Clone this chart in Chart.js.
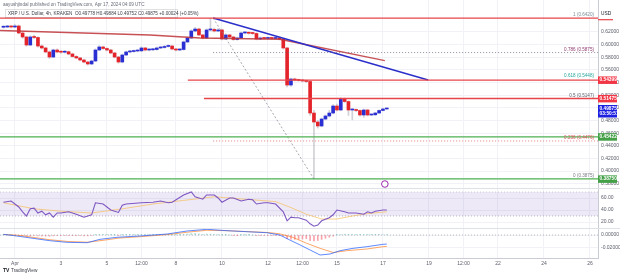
<!DOCTYPE html>
<html>
<head>
<meta charset="utf-8">
<script src="https://cdn.jsdelivr.net/npm/chart.js@4.4.1/dist/chart.umd.min.js"></script>
<style>
  html, body { margin: 0; padding: 0; background: #fff; }
  #c { display: block; }
</style>
</head>
<body>
<canvas id="c" width="620" height="277"></canvas>
<script>
// XRP/USD 4h candles, x = candle index, 0 = Apr 1 00:00 UTC
const firstIdx = -3;
const opens = [
  0.6275, 0.6279, 0.6287, 0.6279,
  0.6295, 0.6184, 0.6121, 0.5994, 0.6121, 0.6113, 0.5978, 0.5947, 0.5884, 0.5804,
  0.5915, 0.5884, 0.5880, 0.5888, 0.5852, 0.5812, 0.5789, 0.5757, 0.5725, 0.5694,
  0.5741, 0.5915, 0.5963, 0.5939, 0.5915, 0.5868, 0.5804, 0.5725, 0.5836, 0.5884,
  0.5891, 0.5899, 0.5902, 0.5947, 0.5915, 0.5918, 0.5923, 0.5947, 0.5955, 0.5971,
  0.5978, 0.5931, 0.5915, 0.5923, 0.6042, 0.6105, 0.6216, 0.6247, 0.6153, 0.6105,
  0.6232, 0.6240, 0.6216, 0.6232, 0.6089, 0.6153, 0.6121, 0.6081, 0.6105, 0.6184,
  0.6187, 0.6180, 0.6176, 0.6089, 0.6105, 0.6097, 0.6105, 0.6097, 0.6105, 0.6089,
  0.5947, 0.5361, 0.5456, 0.5441, 0.5433, 0.5425, 0.5417, 0.4918, 0.4776, 0.4713,
  0.4823, 0.4871, 0.4918, 0.5029, 0.4966, 0.5140, 0.5100, 0.4966, 0.4970, 0.4958,
  0.4887, 0.4966, 0.4887, 0.4890, 0.4918, 0.4958, 0.4982
];
const closes = [
  0.6279, 0.6287, 0.6279, 0.6295,
  0.6184, 0.6121, 0.5994, 0.6121, 0.6113, 0.5978, 0.5947, 0.5884, 0.5804, 0.5915,
  0.5884, 0.5880, 0.5888, 0.5852, 0.5812, 0.5789, 0.5757, 0.5725, 0.5694, 0.5741,
  0.5915, 0.5963, 0.5939, 0.5915, 0.5868, 0.5804, 0.5725, 0.5836, 0.5884, 0.5891,
  0.5899, 0.5902, 0.5947, 0.5915, 0.5918, 0.5923, 0.5947, 0.5955, 0.5971, 0.5978,
  0.5931, 0.5915, 0.5923, 0.6042, 0.6105, 0.6216, 0.6247, 0.6153, 0.6105, 0.6232,
  0.6240, 0.6216, 0.6232, 0.6089, 0.6153, 0.6121, 0.6081, 0.6105, 0.6184, 0.6187,
  0.6180, 0.6176, 0.6089, 0.6105, 0.6097, 0.6105, 0.6097, 0.6105, 0.6089, 0.5947,
  0.5361, 0.5456, 0.5441, 0.5433, 0.5425, 0.5417, 0.4918, 0.4776, 0.4713, 0.4823,
  0.4871, 0.4918, 0.5029, 0.4966, 0.5140, 0.5100, 0.4966, 0.4970, 0.4958, 0.4887,
  0.4966, 0.4887, 0.4890, 0.4918, 0.4958, 0.4982, 0.4988
];
const highs = [
  0.6300, 0.6305, 0.6302, 0.6318,
  0.6310, 0.6200, 0.6135, 0.6140, 0.6150, 0.6125, 0.5995, 0.5960, 0.5900, 0.5930,
  0.5935, 0.5905, 0.5908, 0.5900, 0.5866, 0.5825, 0.5800, 0.5770, 0.5738, 0.5755,
  0.5932, 0.5985, 0.5978, 0.5950, 0.5928, 0.5880, 0.5815, 0.5850, 0.5898, 0.5910,
  0.5915, 0.5920, 0.5965, 0.5958, 0.5935, 0.5940, 0.5962, 0.5972, 0.5988, 0.5995,
  0.5990, 0.5942, 0.5938, 0.6058, 0.6122, 0.6235, 0.6275, 0.6262, 0.6165, 0.6250,
  0.6420, 0.6262, 0.6255, 0.6245, 0.6170, 0.6165, 0.6132, 0.6118, 0.6200, 0.6205,
  0.6200, 0.6195, 0.6188, 0.6120, 0.6115, 0.6118, 0.6116, 0.6120, 0.6118, 0.6100,
  0.5960, 0.5470, 0.5470, 0.5455, 0.5448, 0.5440, 0.5430, 0.4960, 0.4800, 0.4840,
  0.4890, 0.4960, 0.5050, 0.5060, 0.5160, 0.5155, 0.5112, 0.4990, 0.4985, 0.4970,
  0.4980, 0.4975, 0.4905, 0.4930, 0.4970, 0.4995, 0.4988
];
const lows = [
  0.6262, 0.6270, 0.6265, 0.6268,
  0.6170, 0.6100, 0.5975, 0.5985, 0.6095, 0.5960, 0.5930, 0.5870, 0.5780, 0.5795,
  0.5870, 0.5862, 0.5866, 0.5838, 0.5800, 0.5775, 0.5742, 0.5710, 0.5675, 0.5684,
  0.5730, 0.5905, 0.5925, 0.5900, 0.5855, 0.5790, 0.5705, 0.5712, 0.5825, 0.5870,
  0.5878, 0.5885, 0.5890, 0.5900, 0.5902, 0.5905, 0.5912, 0.5935, 0.5942, 0.5960,
  0.5918, 0.5900, 0.5905, 0.5912, 0.6030, 0.6095, 0.6200, 0.6140, 0.6090, 0.6095,
  0.6215, 0.6200, 0.6205, 0.6075, 0.6078, 0.6105, 0.6068, 0.6070, 0.6095, 0.6170,
  0.6165, 0.6160, 0.6075, 0.6078, 0.6083, 0.6085, 0.6082, 0.6086, 0.6075, 0.5930,
  0.5330, 0.5340, 0.5425, 0.5420, 0.5410, 0.5400, 0.4880, 0.3875, 0.4680, 0.4700,
  0.4810, 0.4855, 0.4905, 0.4950, 0.4955, 0.5085, 0.4880, 0.4810, 0.4940, 0.4870,
  0.4850, 0.4872, 0.4875, 0.4880, 0.4910, 0.4950, 0.4975
];

// moving average line (as drawn)
const maIdx = [-3.9, 35.2, 48.3, 69.1, 96.5];
const maVals = [0.6224, 0.6153, 0.6105, 0.6085, 0.5746];

// drawings
const trendIdx = [51.7, 107.8];
const trendVals = [0.6420, 0.5441];
const fibDiagIdx = [51.7, 78];
const fibDiagVals = [0.6420, 0.3875];
const redLevels = [0.6420, 0.5440, 0.5148];
const redStarts = [-3.9, 45.1, 49.3];
const greenLevels = [0.4542, 0.3875];
const fibDotLevels = [0.5875, 0.4476];
const fibRatios = ['1', '0.786', '0.618', '0.5', '0.236', '0'];
const fibPrices = [0.6420, 0.5875, 0.5448, 0.5147, 0.4476, 0.3875];
const fibColors = ['#7a8c99', '#8e3a6e', '#26a69a', '#5d606b', '#e0525a', '#787b86'];

// RSI
const rsiIdx = [-3,-1,1,2,3,4,5,6,7,8,9,10,11,12,14,16,18,20,21,23,25,27,28,29,33,36,38,40,41,44,46,47,49,50,52,53,54,56,57,59,61,62,63,65,66,68,70,71,72,73,74,76,77,78,79,80,82,83,84,86,87,89,91,92,93,94,96,97];
const rsiVals = [53,55,45,37,30,42,43,35,38,32,35,28,35,35,37,33,28,32,52,50,40,36,48,50,52,53,55,52,53,65,70,62,58,65,65,60,53,60,60,55,58,57,50,52,52,50,37,22,28,27,27,23,17,13,15,22,27,32,40,37,35,35,33,37,35,38,40,40];
const rsiMaIdx = [-3, 5, 12, 20, 28, 36, 44, 52, 60, 68, 72, 76, 80, 84, 88, 92, 97];
const rsiMaVals = [52, 42, 38, 35, 42, 50, 56, 62, 58, 54, 44, 33, 25, 25, 30, 34, 37];

// MACD
const macdIdx = [-3, 0.5, 4.7, 9.1, 13.6, 18.8, 22.2, 26.6, 32.6, 39.7, 44.9, 50.1, 55.3, 60.5, 65.7, 69.1, 71.7, 74.4, 77, 79.6, 82.2, 84.8, 88.2, 91.8, 96, 97];
const macdVals = [0.0011, -0.0016, -0.0053, -0.0091, -0.0117, -0.0123, -0.0069, -0.0037, -0.0016, 0.0016, 0.0064, 0.0091, 0.0069, 0.0053, 0.0037, 0.0000, -0.0080, -0.0160, -0.0240, -0.0320, -0.0304, -0.0251, -0.0213, -0.0187, -0.0149, -0.0145];
const sigIdx = [-3, 1, 5, 9, 14, 19, 23, 27, 33, 40, 45, 50, 55, 60, 66, 69, 72.5, 76, 79.6, 83, 86.6, 91.8, 96, 97];
const sigVals = [0.0008, -0.0005, -0.0040, -0.0075, -0.0105, -0.0115, -0.0085, -0.0050, -0.0025, 0.0008, 0.0045, 0.0075, 0.0070, 0.0056, 0.0040, 0.0020, -0.0037, -0.0130, -0.0213, -0.0280, -0.0251, -0.0224, -0.0187, -0.0182];
const histVals = [
  0.0003, 0.0004, 0.0002, -0.0002,
  -0.0008, -0.0012, -0.0016, -0.0014, -0.0012, -0.0014, -0.0016, -0.0018, -0.0020, -0.0014,
  -0.0012, -0.0010, -0.0010, -0.0010, -0.0011, -0.0012, -0.0012, -0.0013, -0.0014, -0.0008,
  0.0004, 0.0010, 0.0011, 0.0009, 0.0006, 0.0002, -0.0003, 0.0002, 0.0005, 0.0006,
  0.0006, 0.0006, 0.0008, 0.0006, 0.0005, 0.0005, 0.0006, 0.0006, 0.0007, 0.0007,
  0.0003, 0.0001, 0.0001,
  0.0009, 0.0014, 0.0020, 0.0022, 0.0015, 0.0009, 0.0014, 0.0013, 0.0010, 0.0009,
  0.0001, 0.0002, 0.0000, -0.0003, -0.0002, 0.0002, 0.0002, 0.0001, 0.0000, -0.0004,
  -0.0004, -0.0004, -0.0004, -0.0004, -0.0003, -0.0004,
  -0.0016, -0.0060, -0.0068, -0.0070, -0.0068, -0.0064, -0.0058, -0.0090, -0.0095, -0.0088,
  -0.0070, -0.0052, -0.0036, -0.0018,
  0.0003, 0.0008, 0.0012, 0.0010, 0.0010, 0.0009, 0.0007, 0.0008, 0.0006, 0.0006,
  0.0006, 0.0007, 0.0008, 0.0008
];

// axes
const xMin = -3.9, xMax = 152.1;
const timeTickIdx = [0, 12, 24, 33, 42, 54, 66, 75, 84, 96, 108, 117, 126, 138, 150];
const timeTickText = ['Apr', '3', '5', '12:00', '8', '10', '12', '12:00', '15', '17', '19', '12:00', '22', '24', '26'];
const priceTicks = [0.38, 0.40, 0.42, 0.44, 0.46, 0.48, 0.50, 0.52, 0.54, 0.56, 0.58, 0.60, 0.62];
const rsiTicks = [20, 40, 60];
const macdTicks = [-0.02, 0];

const axisBoxes = [
  { price: 0.5440, color: '#f23645', lines: ['0.54399'] },
  { price: 0.5148, color: '#f23645', lines: ['0.51475'] },
  { price: 0.4988, color: '#1e22e0', lines: ['0.49875', '03:50:51'] },
  { price: 0.4542, color: '#43a047', lines: ['0.45422'] },
  { price: 0.3875, color: '#43a047', lines: ['0.38750'] }
];

const FONT = '"Liberation Sans", Arial, sans-serif';
const UP = '#2a2fd4', DOWN = '#e3242b';
const idx = closes.map((_, k) => firstIdx + k);
const candleColors = closes.map((c, k) => c >= opens[k] ? UP : DOWN);
const pts = (xs, ys) => xs.map((x, k) => ({ x, y: ys[k] }));
const hLine = (y, x0) => [{ x: x0, y }, { x: xMax, y }];

const lineDs = (data, color, width, extra) => Object.assign({
  type: 'line', data, borderColor: color, borderWidth: width, pointRadius: 0,
  tension: 0, fill: false, yAxisID: 'yPrice', order: 1
}, extra || {});

const datasets = [];
// drawings on price pane (on top)
redLevels.forEach((p, k) => datasets.push(lineDs(hLine(p, redStarts[k]), '#e8454a', 1.3)));
greenLevels.forEach(p => datasets.push(lineDs(hLine(p, xMin), '#4caf50', 1.2)));
fibDotLevels.forEach((p, k) => datasets.push(lineDs(hLine(p, fibDiagIdx[0]),
  k === 0 ? 'rgba(120,110,130,0.8)' : 'rgba(225,90,95,0.75)', 1, { borderDash: [1, 2] })));
datasets.push(lineDs(pts(trendIdx, trendVals), '#2b2fc9', 1.5));
datasets.push(lineDs(pts(fibDiagIdx, fibDiagVals), 'rgba(130,130,140,0.7)', 1, { borderDash: [2, 2] }));
datasets.push(lineDs(pts(maIdx, maVals), 'rgba(190,50,55,0.85)', 1.4, { order: 2 }));
datasets.push({
  type: 'scatter', data: [{ x: 96.5, y: 0.3795 }], yAxisID: 'yPrice', pointRadius: 3.3,
  pointBackgroundColor: '#fff', pointBorderColor: '#9c27b0', pointBorderWidth: 1, order: 1
});
// candles
datasets.push({
  type: 'bar', data: idx.map((x, k) => ({ x, y: [opens[k], closes[k]] })),
  backgroundColor: candleColors, barThickness: 3, minBarLength: 1, grouped: false,
  borderWidth: 0, yAxisID: 'yPrice', order: 3
});
datasets.push({
  type: 'bar', data: idx.map((x, k) => ({ x, y: [lows[k], highs[k]] })),
  backgroundColor: 'rgba(150,152,165,0.45)', barThickness: 1, grouped: false,
  borderWidth: 0, yAxisID: 'yPrice', order: 4
});
// RSI pane
datasets.push(lineDs(pts(rsiIdx, rsiVals), '#7e57c2', 1.1, { yAxisID: 'yRsi', order: 5 }));
datasets.push(lineDs(pts(rsiMaIdx, rsiMaVals), 'rgba(245,190,90,0.7)', 1, { yAxisID: 'yRsi', order: 6 }));
datasets.push(lineDs(hLine(70, xMin), 'rgba(120,123,134,0.35)', 1, { yAxisID: 'yRsi', borderDash: [1, 2], order: 7 }));
datasets.push(lineDs(hLine(30, xMin), 'rgba(120,123,134,0.5)', 1, {
  yAxisID: 'yRsi', borderDash: [1, 2], order: 8,
  fill: { value: 70 }, backgroundColor: 'rgba(126,87,194,0.13)'
}));
// MACD pane
datasets.push(lineDs(pts(macdIdx, macdVals), 'rgba(41,98,255,0.75)', 1, { yAxisID: 'yMacd', order: 5 }));
datasets.push(lineDs(pts(sigIdx, sigVals), 'rgba(255,109,0,0.6)', 1, { yAxisID: 'yMacd', order: 6 }));
datasets.push(lineDs(hLine(0, xMin), 'rgba(120,123,134,0.5)', 1, { yAxisID: 'yMacd', borderDash: [1, 2], order: 8 }));
datasets.push({
  type: 'bar', data: idx.map((x, k) => ({ x, y: histVals[k] })),
  backgroundColor: histVals.map(v => v < 0 ? 'rgba(242,54,69,0.45)' : 'rgba(38,166,154,0.45)'),
  barThickness: 1, grouped: false, borderWidth: 0, yAxisID: 'yMacd', order: 7
});

const tickFont = { family: FONT, size: 5 };
const yAxis = (weight, min, max, ticks, fmt) => ({
  type: 'linear', position: 'right', stack: 'panes', stackWeight: weight, min, max,
  afterBuildTicks: s => { s.ticks = ticks.map(v => ({ value: v })); },
  afterFit: s => { s.width = 22; s.paddingTop = 0; s.paddingBottom = 0; },
  grid: { color: '#f0f2f7', drawTicks: false },
  border: { color: '#c9ccd4' },
  ticks: { padding: 3, autoSkip: false, font: tickFont, color: '#5d606b', callback: fmt }
});

const overlay = {
  id: 'overlay',
  afterDatasetsDraw(chart) {
    const ctx = chart.ctx, a = chart.chartArea, yP = chart.scales.yPrice;
    ctx.save();
    ctx.font = '4.6px ' + FONT;
    ctx.textAlign = 'right';
    ctx.textBaseline = 'bottom';
    fibRatios.forEach((r, k) => {
      ctx.fillStyle = fibColors[k];
      ctx.fillText(r + ' (' + fibPrices[k].toFixed(4) + ')', a.right - 4, yP.getPixelForValue(fibPrices[k]) - 1);
    });
    ctx.restore();
  },
  afterDraw(chart) {
    const ctx = chart.ctx, a = chart.chartArea, yP = chart.scales.yPrice;
    ctx.save();
    // pane separators
    ctx.strokeStyle = '#dfe1e8';
    ctx.lineWidth = 1;
    [chart.scales.yRsi.top, chart.scales.yMacd.top].forEach(y => {
      const yy = Math.round(y) + 0.5;
      ctx.beginPath(); ctx.moveTo(0, yy); ctx.lineTo(620, yy); ctx.stroke();
    });
    // price labels on the axis
    ctx.textAlign = 'left';
    ctx.textBaseline = 'middle';
    ctx.font = 'bold 4.8px ' + FONT;
    axisBoxes.forEach(b => {
      const y = yP.getPixelForValue(b.price);
      const h = b.lines.length * 5 + 2.5;
      ctx.fillStyle = b.color;
      ctx.fillRect(a.right, y - 3.6, 19, h);
      ctx.fillStyle = '#fff';
      b.lines.forEach((t, i) => ctx.fillText(t, a.right + 1.5, y + i * 5));
    });
    // currency + top marker
    ctx.fillStyle = '#131722';
    ctx.font = '4.8px ' + FONT;
    ctx.fillText('USD', a.right + 3, 14);
    ctx.fillStyle = '#e8454a';
    ctx.fillRect(a.right, yP.getPixelForValue(0.6420) + 1, 15, 1.2);
    // header
    ctx.fillStyle = '#6a6d78';
    ctx.font = '4.6px ' + FONT;
    ctx.fillText('aayushjindal published on TradingView.com, Apr 17, 2024 04:09 UTC', 3, 4.5);
    ctx.strokeStyle = 'rgba(0,0,0,0.12)';
    ctx.strokeRect(5.5, 9.5, 172, 8);
    ctx.fillStyle = '#3b3e48';
    ctx.fillText('XRP / U.S. Dollar, 4h, KRAKEN  O0.49778 H0.49884 L0.49752 C0.49875 +0.00024 (+0.05%)', 8, 13.6);
    // logo
    ctx.fillStyle = '#131722';
    ctx.font = 'bold 5px ' + FONT;
    ctx.fillText('TV', 3, 270.5);
    ctx.font = '4.8px ' + FONT;
    ctx.fillStyle = '#3b3e48';
    ctx.fillText('TradingView', 11, 270.5);
    ctx.restore();
  }
};

new Chart(document.getElementById('c'), {
  type: 'bar',
  data: { datasets },
  options: {
    responsive: false,
    animation: false,
    devicePixelRatio: 1,
    layout: { padding: 0, autoPadding: false },
    plugins: { legend: { display: false }, tooltip: { enabled: false } },
    scales: {
      x: {
        type: 'linear', position: 'bottom', min: xMin, max: xMax, offset: false,
        afterBuildTicks: s => { s.ticks = timeTickIdx.map(v => ({ value: v })); },
        afterFit: s => { s.height = 19; s.paddingLeft = 0; s.paddingRight = 0; },
        grid: { color: '#f0f2f7', drawTicks: false, offset: false },
        border: { color: '#c9ccd4' },
        ticks: { padding: 3, autoSkip: false, maxRotation: 0, font: tickFont, color: '#5d606b',
                 callback: (v, i) => timeTickText[i] }
      },
      yPrice: yAxis(188, 0.3732, 0.6706, priceTicks, v => v.toFixed(5)),
      yRsi: yAxis(40, 10, 76.67, rsiTicks, v => v.toFixed(2)),
      yMacd: yAxis(30, -0.0368, 0.0112, macdTicks, v => v.toFixed(5))
    }
  },
  plugins: [overlay]
});
</script>
</body>
</html>
